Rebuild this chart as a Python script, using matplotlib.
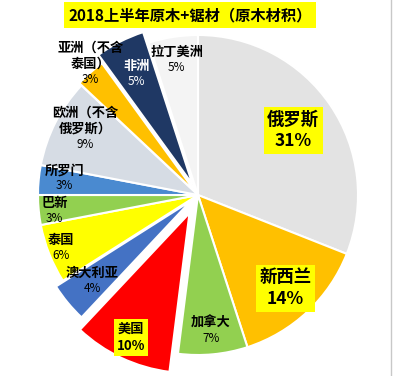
import numpy as np
import matplotlib.pyplot as plt

plt.rcParams['font.family'] = ['Noto Sans CJK SC', 'DejaVu Sans']

# data, clockwise from 12 o'clock
names = ['俄罗斯', '新西兰', '加拿大', '美国', '澳大利亚', '泰国', '巴新', '所罗门',
         '欧洲（不含\n俄罗斯）', '亚洲（不含\n泰国）', '非洲', '拉丁美洲']
shares = [31, 14, 7, 10, 4, 6, 3, 3, 9, 3, 5, 5]

colors = ['#e3e3e3', '#ffc000', '#92d050', '#ff0000', '#4472c4', '#ffff00',
          '#92d050', '#4a8ad0', '#d6dce4', '#ffc000', '#1f3864', '#f4f4f4']
explode_px = [0, 0, 0, 20, 9, 0, 0, 0, 0, 3, 12, 0]
label_r = [0.72, 0.80, 0.86, 0.86, 0.80, 0.92, 0.9, 0.84, 0.79, 1.0, 0.77, 0.85]
nudge_y = [0, 0, 0, 0, 0, 0, -3, 3, 0, 0, 0, 0]
boxed = [True, True, False, True, False, False, False, False, False, False, False, False]
big = [True, True, False, False, False, False, False, False, False, False, False, False]

R = 160
cx, cy = 198, 181

fig = plt.figure(figsize=(3.93, 3.76), dpi=100)
ax = fig.add_axes([0, 0, 1, 1])

# explode in pie is in data units here (pixels)
ax.pie(shares, colors=colors, startangle=90, counterclock=False, radius=R,
       center=(cx, cy), explode=explode_px, frame=True,
       wedgeprops=dict(edgecolor='white', linewidth=1.5))
ax.set_xlim(0, 393)
ax.set_ylim(0, 376)
ax.set_aspect('equal')
ax.axis('off')

total = sum(shares)
start = 90.0
for i, (n, s) in enumerate(zip(names, shares)):
    mid = np.deg2rad(start - s / total * 360 / 2)
    start -= s / total * 360
    r = R * label_r[i] + explode_px[i]
    x = cx + r * np.cos(mid)
    y = cy + r * np.sin(mid) + nudge_y[i]
    col = 'white' if n == '非洲' else 'black'
    pct = f'{s}%'
    if boxed[i]:
        fs = 12.5 if big[i] else 9.5
        ax.text(x, y, n + '\n' + pct, ha='center', va='center', fontsize=fs,
                fontweight='bold', color=col, linespacing=1.3,
                bbox=dict(boxstyle='square,pad=0.2', fc='#ffff00', ec='none'))
    else:
        ax.text(x, y + 2, n, ha='center', va='bottom', fontsize=9.5,
                fontweight='bold', color=col, linespacing=1.15)
        ax.text(x, y, pct, ha='center', va='top', fontsize=8.5,
                color=col)

ax.text(190, 361, '2018上半年原木+锯材（原木材积）', ha='center', va='center',
        fontsize=11, fontweight='bold',
        bbox=dict(boxstyle='square,pad=0.3', fc='#ffff00', ec='none'))
ax.axvline(391, color='#c8c8c8', lw=1)

fig.savefig('out.png', dpi=100)
